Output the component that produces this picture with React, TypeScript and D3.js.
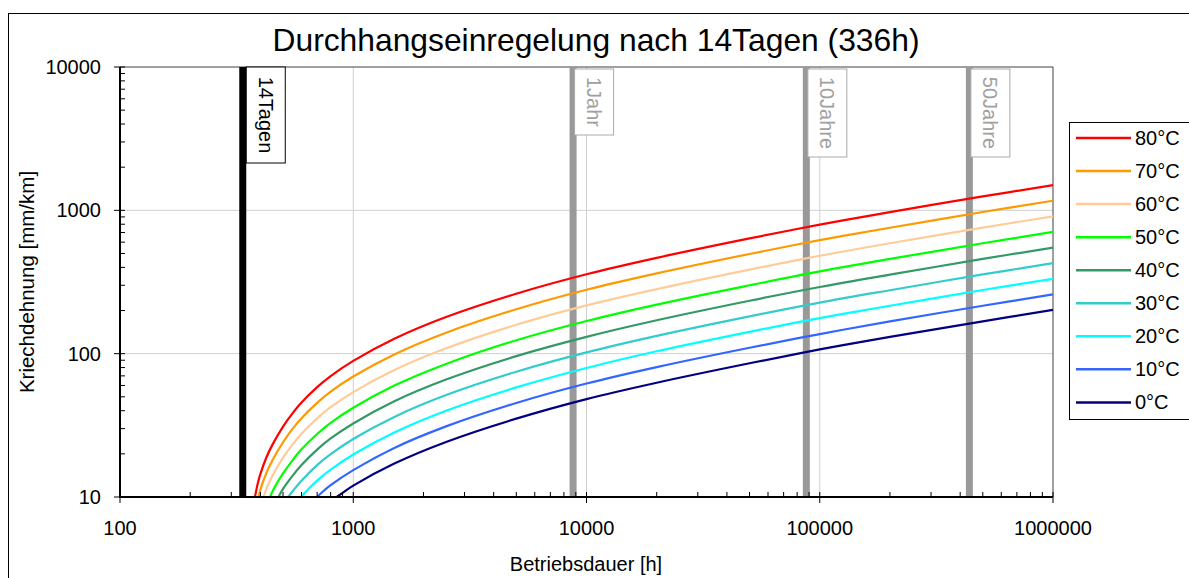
import * as d3 from "d3";

const W = 1189;
const H = 578;
const PLOT = { left: 120, right: 1053, top: 67, bottom: 497 };
const FONT = "'Liberation Sans', Arial, sans-serif";

const TITLE = "Durchhangseinregelung nach 14Tagen (336h)";
const X_TITLE = "Betriebsdauer [h]";
const Y_TITLE = "Kriechdehnung [mm/km]";

const X_TICKS = [100, 1000, 10000, 100000, 1000000];
const Y_TICKS = [10, 100, 1000, 10000];

const MARKER_HOURS = [336, 8760, 87600, 438000];
const MARKER_LABELS = ["14Tagen", "1Jahr", "10Jahre", "50Jahre"];

// [Betriebsdauer h, Kriechdehnung mm/km]
const C80 = [[379, 10], [390, 12.5], [400, 14.5], [425, 19], [450, 23.1], [500, 31], [550, 38.5], [600, 45.6], [700, 58.4], [800, 69.8], [1000, 89], [1500, 127], [2500, 180], [5000, 262], [10000, 358], [20000, 466], [50000, 637], [100000, 795], [200000, 972], [500000, 1250], [1000000, 1500]];
const C70 = [[393, 10], [400, 11.3], [425, 14.8], [450, 18], [500, 24.1], [550, 30], [600, 35.5], [700, 45.4], [800, 54.3], [1000, 69.3], [1500, 98.8], [2500, 140], [5000, 204], [10000, 279], [20000, 363], [50000, 496], [100000, 619], [200000, 756], [500000, 973], [1000000, 1167]];
const C60 = [[413, 10], [425, 11.5], [450, 14], [500, 18.8], [550, 23.3], [600, 27.6], [700, 35.4], [800, 42.3], [1000, 53.9], [1500, 76.9], [2500, 109], [5000, 159], [10000, 217], [20000, 282], [50000, 386], [100000, 482], [200000, 589], [500000, 757], [1000000, 909]];
const C50 = [[440, 10], [450, 10.9], [500, 14.6], [550, 18.1], [600, 21.5], [700, 27.5], [800, 32.9], [1000, 41.9], [1500, 59.9], [2500, 84.8], [5000, 124], [10000, 169], [20000, 220], [50000, 300], [100000, 375], [200000, 458], [500000, 589], [1000000, 707]];
const C40 = [[478, 10], [500, 11.4], [550, 14.1], [600, 16.7], [700, 21.4], [800, 25.6], [1000, 32.6], [1500, 46.6], [2500, 66], [5000, 96.1], [10000, 131], [20000, 171], [50000, 234], [100000, 292], [200000, 356], [500000, 458], [1000000, 550]];
const C30 = [[526, 10], [550, 11], [600, 13], [700, 16.7], [800, 19.9], [1000, 25.4], [1500, 36.2], [2500, 51.4], [5000, 74.8], [10000, 102], [20000, 133], [50000, 182], [100000, 227], [200000, 277], [500000, 357], [1000000, 428]];
const C20 = [[597, 10], [650, 11.6], [700, 13], [800, 15.5], [1000, 19.8], [1500, 28.2], [2500, 40], [5000, 58.2], [10000, 79.5], [20000, 104], [50000, 142], [100000, 177], [200000, 216], [500000, 278], [1000000, 333]];
const C10 = [[699, 10], [750, 11.1], [800, 12.1], [1000, 15.4], [1500, 22], [2500, 31.1], [5000, 45.3], [10000, 61.9], [20000, 80.6], [50000, 110], [100000, 137], [200000, 168], [500000, 216], [1000000, 259]];
const C0 = [[850, 10], [900, 10.7], [1000, 12], [1500, 17.1], [2500, 24.2], [5000, 35.2], [10000, 48.2], [20000, 62.7], [50000, 85.7], [100000, 107], [200000, 131], [500000, 168], [1000000, 202]];

const SERIES_NAMES = ["80°C", "70°C", "60°C", "50°C", "40°C", "30°C", "20°C", "10°C", "0°C"];
const SERIES_DATA = [C80, C70, C60, C50, C40, C30, C20, C10, C0];
const SERIES_COLORS = ["#ff0000", "#ff9900", "#ffcc99", "#00ff00", "#339966", "#33cccc", "#00ffff", "#3366ff", "#000080"];

export default function App() {
  const x = d3.scaleLog().domain([100, 1000000]).range([PLOT.left, PLOT.right]);
  const y = d3.scaleLog().domain([10, 10000]).range([PLOT.bottom, PLOT.top]);

  const line = d3
    .line<number[]>()
    .x((d) => x(d[0]))
    .y((d) => y(d[1]))
    .curve(d3.curveCatmullRom.alpha(0.5));

  const minorX: number[] = [];
  X_TICKS.slice(0, -1).forEach((d) => {
    for (let k = 2; k <= 9; k++) minorX.push(d * k);
  });
  const minorY: number[] = [];
  Y_TICKS.slice(0, -1).forEach((d) => {
    for (let k = 2; k <= 9; k++) minorY.push(d * k);
  });

  const legendTop = 138;
  const legendStep = 33.05;

  return (
    <svg
      width={W}
      height={H}
      style={{ position: "absolute", left: 0, top: 0, background: "#fff" }}
      fontFamily={FONT}
    >
      <defs>
        <clipPath id="plot-clip">
          <rect x={PLOT.left} y={PLOT.top} width={PLOT.right - PLOT.left} height={PLOT.bottom - PLOT.top} />
        </clipPath>
      </defs>

      <rect x={8.5} y={13.5} width={1300} height={700} fill="#fff" stroke="#000" strokeWidth={1} />

      <text x={596} y={51} textAnchor="middle" fontSize={31.8} fill="#000">
        {TITLE}
      </text>

      {/* grid */}
      {X_TICKS.slice(1, -1).map((t) => (
        <line key={"gx" + t} x1={x(t)} x2={x(t)} y1={PLOT.top} y2={PLOT.bottom} stroke="#d0d0d0" strokeWidth={1} />
      ))}
      {Y_TICKS.slice(1, -1).map((v) => (
        <line key={"gy" + v} x1={PLOT.left} x2={PLOT.right} y1={y(v)} y2={y(v)} stroke="#d0d0d0" strokeWidth={1} />
      ))}

      {/* plot frame top / right */}
      <line x1={PLOT.left} x2={PLOT.right} y1={PLOT.top} y2={PLOT.top} stroke="#404040" strokeWidth={1} />
      <line x1={PLOT.right} x2={PLOT.right} y1={PLOT.top} y2={PLOT.bottom} stroke="#404040" strokeWidth={1} />

      {/* marker lines */}
      {MARKER_HOURS.map((h, i) => (
        <line
          key={"m" + h}
          x1={x(h)}
          x2={x(h)}
          y1={PLOT.top}
          y2={PLOT.bottom}
          stroke={i === 0 ? "#000" : "#999999"}
          strokeWidth={7}
        />
      ))}

      {/* curves */}
      <g clipPath="url(#plot-clip)">
        {SERIES_DATA.map((data, i) => (
          <path
            key={SERIES_NAMES[i]}
            d={line(data) || ""}
            fill="none"
            stroke={SERIES_COLORS[i]}
            strokeWidth={2.2}
            strokeLinejoin="round"
          />
        ))}
      </g>

      {/* marker labels */}
      {MARKER_HOURS.map((h, i) => {
        const boxH = i === 0 ? 96 : i === 1 ? 66 : 88;
        const bx = x(h) + (i === 0 ? 3.5 : 1.5);
        const by = i === 0 ? PLOT.top : PLOT.top + 2;
        return (
          <g key={"ml" + h}>
            <rect
              x={bx}
              y={by}
              width={39}
              height={boxH}
              fill="#fff"
              stroke={i === 0 ? "#000" : "#aaaaaa"}
              strokeWidth={1}
            />
            <text
              transform={`translate(${bx + 12.5}, ${by + boxH / 2}) rotate(90)`}
              textAnchor="middle"
              fontSize={20}
              fill={i === 0 ? "#000" : "#a0a0a0"}
            >
              {MARKER_LABELS[i]}
            </text>
          </g>
        );
      })}

      {/* axes */}
      <line x1={PLOT.left} x2={PLOT.left} y1={PLOT.top} y2={PLOT.bottom + 1} stroke="#000" strokeWidth={2} />
      <line x1={PLOT.left - 1} x2={PLOT.right} y1={PLOT.bottom} y2={PLOT.bottom} stroke="#000" strokeWidth={2} />

      {minorX.map((t) => (
        <line key={"mx" + t} x1={x(t)} x2={x(t)} y1={PLOT.bottom} y2={PLOT.bottom - 5} stroke="#000" strokeWidth={1} />
      ))}
      {X_TICKS.map((t) => (
        <line key={"tx" + t} x1={x(t)} x2={x(t)} y1={PLOT.bottom - 5} y2={PLOT.bottom + 6} stroke="#000" strokeWidth={1} />
      ))}
      {minorY.map((v) => (
        <line key={"my" + v} x1={PLOT.left} x2={PLOT.left + 5} y1={y(v)} y2={y(v)} stroke="#000" strokeWidth={1} />
      ))}
      {Y_TICKS.map((v) => (
        <line key={"ty" + v} x1={PLOT.left - 6} x2={PLOT.left + 5} y1={y(v)} y2={y(v)} stroke="#000" strokeWidth={1} />
      ))}

      {X_TICKS.map((t) => (
        <text key={"lx" + t} x={x(t)} y={535} textAnchor="middle" fontSize={20} fill="#000">
          {String(t)}
        </text>
      ))}
      {Y_TICKS.map((v) => (
        <text key={"ly" + v} x={101} y={y(v) + 7} textAnchor="end" fontSize={20} fill="#000">
          {String(v)}
        </text>
      ))}

      <text x={586} y={571} textAnchor="middle" fontSize={20} fill="#000">
        {X_TITLE}
      </text>
      <text transform={`translate(34, ${(PLOT.top + PLOT.bottom) / 2}) rotate(-90)`} textAnchor="middle" fontSize={20.5} fill="#000">
        {Y_TITLE}
      </text>

      {/* legend */}
      <rect x={1069.5} y={122.5} width={200} height={297} fill="#fff" stroke="#000" strokeWidth={1} />
      {SERIES_NAMES.map((name, i) => (
        <g key={"lg" + name}>
          <line
            x1={1076}
            x2={1131}
            y1={legendTop + i * legendStep}
            y2={legendTop + i * legendStep}
            stroke={SERIES_COLORS[i]}
            strokeWidth={2.5}
          />
          <text x={1135} y={legendTop + i * legendStep + 7} fontSize={20} fill="#000">
            {name}
          </text>
        </g>
      ))}
    </svg>
  );
}
